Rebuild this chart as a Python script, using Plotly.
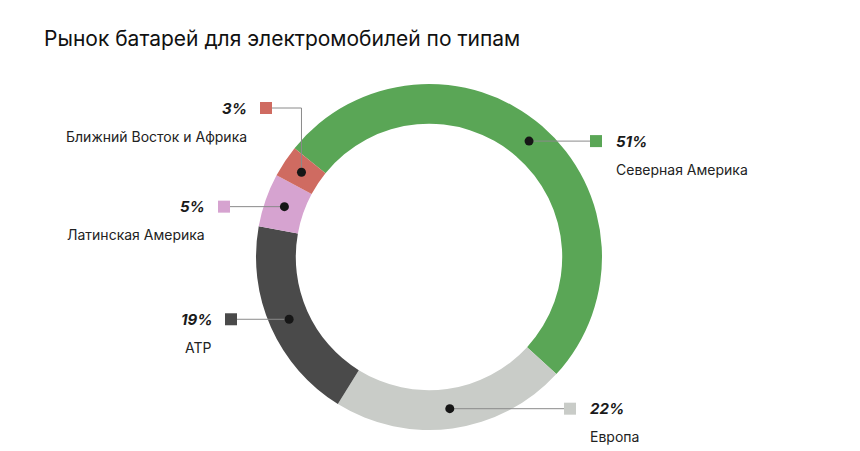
import math
import plotly.graph_objects as go

# данные
categories = ["Северная Америка", "Европа", "АТР", "Латинская Америка", "Ближний Восток и Африка"]
shares = [51, 22, 19, 5, 3]
colors = ["#5aa656", "#c9ccc8", "#4a4a4a", "#d6a3d0", "#cf6b61"]

W, H = 860, 451
cx, cy, R = 429, 257, 173
HOLE = 0.77
START = 309  # угол начала первого сектора (по часовой от 12 часов)

# положение подписей (x квадратика, сторона) ; y берется от точки, кроме 3%
label_x = [596, 570, 231, 224, 266]
label_side = ["right", "right", "left", "left", "left"]
label_y_fixed = {4: 108}

fig = go.Figure()
fig.add_trace(go.Pie(
    values=shares, labels=categories, sort=False, direction="clockwise",
    rotation=START, hole=HOLE, textinfo="none", hoverinfo="label+percent",
    marker=dict(colors=colors, line=dict(width=0)),
    domain=dict(x=[(cx - R) / W, (cx + R) / W], y=[(H - cy - R) / H, (H - cy + R) / H]),
    showlegend=False,
))

# точки в середине каждого сектора
total = sum(shares)
acc = 0
dots_x, dots_y = [], []
rmid = R * (1 + HOLE) / 2
for v in shares:
    ang = math.radians(START + (acc + v / 2) / total * 360)
    dots_x.append(cx + rmid * math.sin(ang))
    dots_y.append(cy - rmid * math.cos(ang))
    acc += v

annotations = []
shapes = []
for i, cat in enumerate(categories):
    sx = label_x[i]
    sy = label_y_fixed.get(i, dots_y[i])
    # линия от квадрата к точке
    if i in label_y_fixed:
        path = "M %f %f L %f %f L %f %f" % (sx + 6, sy, dots_x[i], sy, dots_x[i], dots_y[i])
    else:
        path = "M %f %f L %f %f" % (sx, sy, dots_x[i], dots_y[i])
    shapes.append(dict(type="path", path=path, xref="x", yref="y", layer="above",
                       line=dict(color="#8a8a8a", width=1)))
    shapes.append(dict(type="rect", xref="x", yref="y", layer="above",
                       x0=sx - 6, x1=sx + 6, y0=sy - 6, y1=sy + 6,
                       fillcolor=colors[i], line=dict(width=0)))
    shapes.append(dict(type="circle", xref="x", yref="y", layer="above",
                       x0=dots_x[i] - 4.5, x1=dots_x[i] + 4.5, y0=dots_y[i] - 4.5, y1=dots_y[i] + 4.5,
                       fillcolor="#161616", line=dict(width=0)))
    if label_side[i] == "right":
        tx, anchor = sx + 18, "left"
    else:
        tx, anchor = sx - 17, "right"
    annotations.append(dict(x=tx, y=sy, xref="x", yref="y", text="<b><i>%d%%</i></b>" % shares[i],
                            showarrow=False, xanchor=anchor, yanchor="middle",
                            font=dict(size=15, color="#1a1a1a", family="Inter")))
    annotations.append(dict(x=tx, y=sy + 28, xref="x", yref="y", text=cat,
                            showarrow=False, xanchor=anchor, yanchor="middle",
                            font=dict(size=14, color="#222222", family="Inter")))

fig.update_layout(
    width=W, height=H, margin=dict(l=0, r=0, t=0, b=0),
    paper_bgcolor="white", plot_bgcolor="rgba(0,0,0,0)",
    xaxis=dict(range=[0, W], visible=False, fixedrange=True),
    yaxis=dict(range=[H, 0], visible=False, fixedrange=True),
    shapes=shapes,
    annotations=annotations + [dict(
        x=42, y=38, xref="x", yref="y", text="Рынок батарей для электромобилей по типам",
        showarrow=False, xanchor="left", yanchor="middle",
        font=dict(size=21, color="#111111", family="Inter"))],
)

fig.write_html("out.html", config={"displayModeBar": False},
               post_script="document.body.style.margin='0';")
